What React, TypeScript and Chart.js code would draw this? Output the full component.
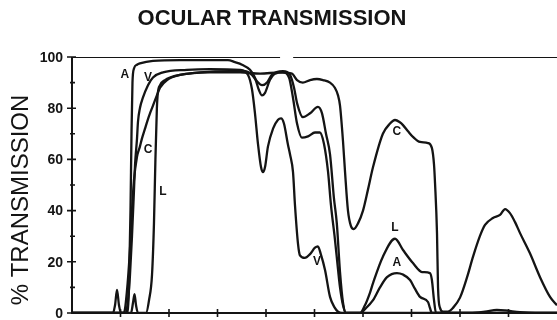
import React, { useEffect, useRef } from 'react';
import { Chart, registerables } from 'chart.js';

Chart.register(...registerables);

const TITLE = 'OCULAR TRANSMISSION';
const Y_TITLE = '% TRANSMISSION';
const Y_MAJOR = [0, 20, 40, 60, 80, 100];
const Y_MINOR = [10, 30, 50, 70, 90];
const X_TICKS = [100, 200, 300, 400, 500, 600, 700, 800, 900];

// Aqueous
const A_X = [0, 113, 117.5, 120.6, 122.7, 124.7, 127.8, 134, 140, 167, 222.7, 321.6, 336, 350.5, 367, 377, 385.6, 391.8, 398, 408, 418.6, 435, 447.5, 455.7, 464, 474, 486.6, 501, 511, 519.6, 528, 534, 542, 548.5, 552.6, 558.8, 565, 594, 604, 620.7, 635, 649.5, 670, 682.5, 697, 707, 717.6, 734, 738, 742, 1000];
const A_Y = [0, 0, 10, 40, 70, 90, 95.5, 97, 97.5, 98.5, 98.8, 98.8, 98, 97, 95, 92, 87, 85, 86, 91, 93.5, 94, 92, 84, 74, 68.5, 69, 70.5, 70.5, 66, 55, 42, 29, 17, 10, 3, 0, 0, 1.5, 5, 10, 14, 15.6, 15, 12.9, 9.5, 6.3, 4.3, 2, 0, 0];

// Vitreous
const V_X = [0, 111, 115.5, 119.6, 123.7, 127.8, 130, 134, 136, 140, 146, 156.7, 167, 187.6, 237, 284.6, 346.4, 363, 371, 377, 383.5, 389.7, 393.8, 398, 404, 414.5, 424.8, 431, 437, 445, 449.5, 455.7, 459.8, 466, 470, 480, 490.8, 501, 507, 513, 521.7, 532, 542, 548.5, 556.7, 1000];
const V_Y = [0, 0, 5, 15, 30, 48, 58, 68, 74.6, 80, 84, 89, 92, 94, 95, 95.3, 95, 93, 87.5, 78.5, 66, 57, 55, 57, 65, 72, 75.5, 76, 74, 66, 62, 55, 42, 27, 22.5, 21.5, 23, 25.5, 26, 23, 16.8, 6.3, 2, 0.5, 0, 0];

// Cornea
const C_X = [0, 107, 113, 119.6, 123.7, 127.8, 134, 140, 144, 150.5, 154.7, 160.8, 167, 175, 181.5, 196, 222.7, 284.6, 346.4, 387.7, 429, 453.6, 464, 476, 490.8, 505, 517.6, 532, 542, 548.5, 552.6, 558.8, 563, 569, 575, 581, 589.7, 600, 610, 620.7, 641, 655.7, 666, 676, 682.5, 692.8, 703, 717.6, 734, 742, 746.4, 748.5, 752.6, 754.7, 758.8, 765, 775, 785.6, 800, 814.6, 826.9, 841, 851.6, 868, 882.5, 893, 903, 913.5, 923.8, 944, 965, 985.6, 1000];
const C_Y = [0, 0, 8, 25, 40, 52, 61, 65, 68, 72, 74.6, 78, 81, 85, 88, 91, 93, 94, 94, 93.5, 94, 93.5, 91, 90, 91, 91.4, 91, 90, 88, 85, 81, 67, 55, 40, 34, 32.8, 35, 40, 48, 57, 70, 74, 75.4, 74.5, 73.4, 71, 68.8, 66.8, 66.4, 64.5, 58, 50.8, 31, 10, 2, 0.5, 0.5, 2, 6, 14, 22, 30, 34.4, 37.1, 38.3, 40.6, 39, 35.5, 31.2, 23.4, 14, 6.3, 3];

// Lens
const L_X = [0, 84.5, 88.7, 92.8, 96.9, 101, 121.7, 125.8, 128.9, 132, 136, 152.6, 158.8, 165, 169, 172, 175, 177, 181.5, 191.8, 202, 222.7, 264, 325.8, 356.7, 371, 381.5, 391.8, 402, 412, 435, 449.5, 457.8, 464, 476, 490.8, 507, 515.5, 523.7, 532, 540, 546, 552.6, 558.8, 565, 594, 604, 614.5, 620.7, 641, 666, 682.5, 703, 721.7, 738, 742, 746.4, 750.6, 820.7, 851.6, 876, 893, 923.8, 954.7, 1000];
const L_Y = [0, 0, 3, 9, 3, 0, 0, 4, 7.4, 3, 0, 0, 5, 15, 35, 60, 80, 86, 89, 91, 92, 93, 94, 94.5, 94.5, 93, 90.5, 89, 90, 93, 94.5, 93, 88, 82, 76.5, 78, 80.5, 78, 70, 62, 45, 35, 16, 4, 0, 0, 3, 8, 11.7, 22, 29, 24.6, 19.5, 16, 15.6, 13, 5, 0, 0, 0.5, 1.2, 1, 0.3, 0, 0];

// Broken top frame line
const FRAME_X = [0, 429, 440, 456, 1000];
const FRAME_Y = [100, 100, null, 100, 100];

// Curve labels
const LABEL_TEXT = ['A', 'V', 'C', 'L', 'V', 'C', 'L', 'A'];
const LABEL_X = [109, 156.7, 156.7, 187.6, 505, 670, 666, 670];
const LABEL_Y = [93, 92, 63.7, 47.3, 20, 70.7, 33.2, 19.5];

const INK = '#141414';
const FONT = '"Liberation Sans", Arial, Helvetica, sans-serif';

const pts = (xs: number[], ys: (number | null)[]) => xs.map((x, i) => ({ x, y: ys[i] }));

const decor = {
  id: 'decor',
  beforeDraw(chart: any) {
    const ctx = chart.ctx;
    ctx.save();
    ctx.fillStyle = '#ffffff';
    ctx.fillRect(0, 0, chart.width, chart.height);
    ctx.restore();
  },
  afterDraw(chart: any) {
    const { ctx, scales } = chart;
    const xs = scales.x;
    const ys = scales.y;
    const x0 = xs.getPixelForValue(0);
    const x1 = xs.getPixelForValue(1000);
    const y0 = ys.getPixelForValue(0);
    const y1 = ys.getPixelForValue(100);
    ctx.save();
    ctx.strokeStyle = INK;
    ctx.fillStyle = INK;
    ctx.lineWidth = 2;
    ctx.beginPath();
    ctx.moveTo(x0, y1);
    ctx.lineTo(x0, y0);
    ctx.lineTo(x1, y0);
    ctx.stroke();
    ctx.lineWidth = 1.6;
    ctx.beginPath();
    Y_MAJOR.forEach((v) => {
      const py = ys.getPixelForValue(v);
      ctx.moveTo(x0 - 5, py);
      ctx.lineTo(x0 + 4, py);
    });
    Y_MINOR.forEach((v) => {
      const py = ys.getPixelForValue(v);
      ctx.moveTo(x0 - 2, py);
      ctx.lineTo(x0 + 3, py);
    });
    X_TICKS.forEach((v) => {
      const px = xs.getPixelForValue(v);
      ctx.moveTo(px, y0 - 4);
      ctx.lineTo(px, y0 + 4);
    });
    ctx.stroke();

    ctx.font = 'bold 14px ' + FONT;
    ctx.textAlign = 'right';
    ctx.textBaseline = 'middle';
    Y_MAJOR.forEach((v) => {
      ctx.fillText(String(v), x0 - 9, ys.getPixelForValue(v) + 1);
    });

    ctx.font = 'bold 12px ' + FONT;
    ctx.textAlign = 'center';
    LABEL_TEXT.forEach((t, i) => {
      ctx.fillText(t, xs.getPixelForValue(LABEL_X[i]), ys.getPixelForValue(LABEL_Y[i]));
    });

    ctx.font = 'bold 22px ' + FONT;
    ctx.textAlign = 'center';
    ctx.textBaseline = 'middle';
    ctx.fillText(TITLE, 272, 19);

    ctx.save();
    ctx.translate(21, 200);
    ctx.rotate(-Math.PI / 2);
    ctx.font = '24px ' + FONT;
    ctx.fillText(Y_TITLE, 0, 0);
    ctx.restore();

    ctx.restore();
  },
};

export default function App() {
  const ref = useRef<HTMLCanvasElement | null>(null);
  useEffect(() => {
    if (!ref.current) return;
    const line = (data: any[], extra: any = {}) => ({
      data,
      borderColor: INK,
      borderWidth: 2.3,
      pointRadius: 0,
      fill: false,
      cubicInterpolationMode: 'monotone',
      ...extra,
    });
    const chart = new Chart(ref.current, {
      type: 'line',
      data: {
        datasets: [
          line(pts(FRAME_X, FRAME_Y), { borderWidth: 2, cubicInterpolationMode: 'default', tension: 0, spanGaps: false }),
          line(pts(A_X, A_Y)),
          line(pts(V_X, V_Y)),
          line(pts(C_X, C_Y)),
          line(pts(L_X, L_Y)),
        ],
      },
      options: {
        animation: false,
        responsive: false,
        events: [],
        layout: { padding: { left: 72, top: 57, right: 0, bottom: 7 } },
        plugins: { legend: { display: false }, tooltip: { enabled: false }, title: { display: false } },
        scales: {
          x: { type: 'linear', min: 0, max: 1000, display: false },
          y: { type: 'linear', min: 0, max: 100, display: false },
        },
      },
      plugins: [decor],
    } as any);
    return () => chart.destroy();
  }, []);
  return (
    <div style={{ position: 'fixed', left: 0, top: 0, width: 557, height: 320, background: '#fff' }}>
      <canvas ref={ref} width={557} height={320} style={{ display: 'block' }} />
    </div>
  );
}
